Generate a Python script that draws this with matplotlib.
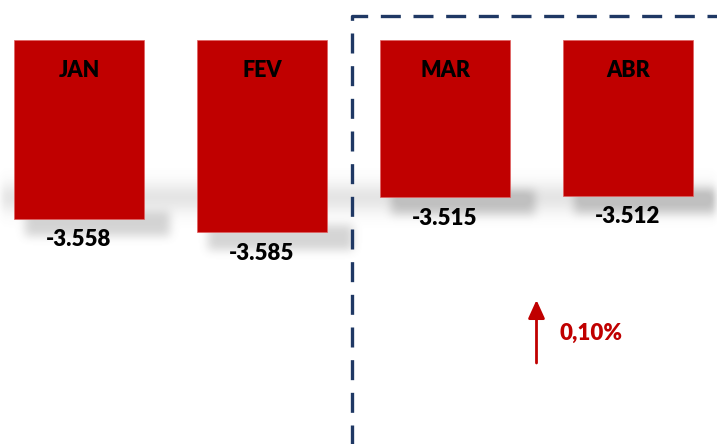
import numpy as np
import matplotlib
matplotlib.use("Agg")
import matplotlib.pyplot as plt
from matplotlib.lines import Line2D

# ---- data ----
months = ["JAN", "FEV", "MAR", "ABR"]
values = [-3.558, -3.585, -3.515, -3.512]
value_labels = ["-3.558", "-3.585", "-3.515", "-3.512"]
change_label = "0,10%"

BASE = -3.2
RED = "#C00000"
NAVY = "#1F3864"
FONT = ["Lato", "DejaVu Sans"]

W, H, DPI = 717, 444, 100
fig = plt.figure(figsize=(W / DPI, H / DPI), dpi=DPI)
ax = fig.add_axes([0, 0, 1, 1])
x0, x1 = -79 / 183, (W - 79) / 183
y1 = BASE + 40 / 500
y0 = BASE - (H - 40) / 500
ax.set_xlim(x0, x1)
ax.set_ylim(y0, y1)
ax.axis("off")

x = np.arange(len(months))
bw = 130 / 183

# ---- soft shadow (computed from bars) ----
gx = np.linspace(x0, x1, W)
gy = np.linspace(y1, y0, H)
XX, YY = np.meshgrid(gx, gy)
shadow = np.zeros((H, W))
band_center = BASE - 0.315
shadow += 0.20 * np.exp(-((YY - band_center) / 0.028) ** 2)
for xi, v in zip(x, values):
    inx = (XX > xi - bw / 2 + 0.06) & (XX < xi + bw / 2 + 0.14)
    iny = (YY < v + 0.015) & (YY > v - 0.035)
    shadow += 0.30 * (inx & iny)

def blur(a, k):
    ker = np.ones(k) / k
    a = np.apply_along_axis(lambda r: np.convolve(r, ker, mode="same"), 1, a)
    a = np.apply_along_axis(lambda c: np.convolve(c, ker, mode="same"), 0, a)
    return a

for _ in range(3):
    shadow = blur(shadow, 9)
shadow = np.clip(shadow, 0, 0.45)
rgba = np.zeros((H, W, 4))
rgba[..., :3] = 0.45
rgba[..., 3] = shadow
ax.imshow(rgba, extent=(x0, x1, y0, y1), aspect="auto", zorder=1, interpolation="bilinear")

# ---- bars ----
heights = [v - BASE for v in values]
ax.bar(x, heights, bottom=BASE, width=bw, color=RED, edgecolor="#E06060",
       linewidth=0.5, zorder=3)

for xi, m, v, lab in zip(x, months, values, value_labels):
    ax.text(xi, BASE - 0.062, m, ha="center", va="center", fontsize=15.5,
            fontweight="heavy", family=FONT, color="black", zorder=4)
    ax.text(xi, v - 0.042, lab, ha="center", va="center", fontsize=16,
            fontweight="heavy", family=FONT, color="black", zorder=4)

# ---- dashed highlight frame ----
frame = Line2D([352, 352, W + 5], [-5, H - 16, H - 16], transform=None,
               color=NAVY, linewidth=2.4, linestyle=(0, (6.0, 3.8)),
               solid_capstyle="butt", dash_capstyle="butt", zorder=5)
fig.add_artist(frame)

# ---- arrow + change label ----
ax.annotate("", xy=(2.5, 1 - 300 / H), xytext=(2.5, 1 - 363 / H),
            xycoords=("data", "axes fraction"), textcoords=("data", "axes fraction"),
            arrowprops=dict(arrowstyle="-|>,head_length=1.1,head_width=0.5",
                            color=RED, lw=2.0, shrinkA=0, shrinkB=0), zorder=5)
ax.text(2.5 + 23 / 183, 1 - 333 / H, change_label, transform=ax.get_xaxis_transform(),
        ha="left", va="center", fontsize=16, fontweight="heavy", family=FONT,
        color=RED, zorder=5)

fig.savefig("out.png", dpi=DPI)
